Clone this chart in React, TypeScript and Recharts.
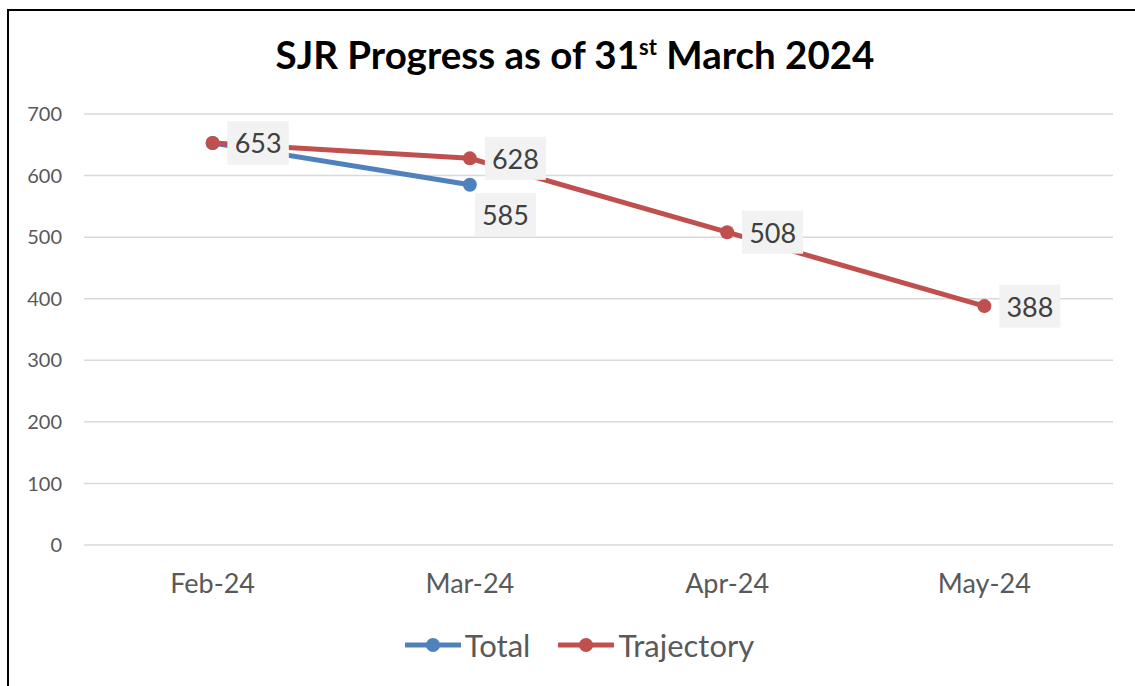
import {
  LineChart,
  Line,
  XAxis,
  YAxis,
  CartesianGrid,
  Legend,
  LabelList
} from 'recharts'

const meses = ['Feb-24', 'Mar-24', 'Apr-24', 'May-24']
const total: (number | null)[] = [653, 585, null, null]
const trayectoria = [653, 628, 508, 388]
const ticksY = [0, 100, 200, 300, 400, 500, 600, 700]

const datos = meses.map((mes, i) => ({
  mes,
  total: total[i],
  trayectoria: trayectoria[i]
}))

const FUENTE = 'Lato, "Open Sans", sans-serif'
const AZUL = '#4F81BD'
const ROJO = '#C0504D'

// caja gris con el valor, a la derecha o debajo del punto
function etiqueta(debajo: number[]) {
  // eslint-disable-next-line @typescript-eslint/no-explicit-any
  return function Etiqueta(props: any) {
    const { x, y, value, index } = props
    if (value == null) return null
    const w = 61
    const h = 43
    const abajo = debajo.includes(index)
    const bx = abajo ? x + 5 : x + 15
    const by = abajo ? y + 8 : y - h / 2
    return (
      <g>
        <rect x={bx} y={by} width={w} height={h} fill="#F2F2F2" />
        <text
          x={bx + w / 2}
          y={by + h / 2}
          textAnchor="middle"
          dominantBaseline="central"
          fontFamily={FUENTE}
          fontSize={27}
          fill="#404040"
        >
          {value}
        </text>
      </g>
    )
  }
}

// eslint-disable-next-line @typescript-eslint/no-explicit-any
function LeyendaCustom({ payload }: any) {
  if (!payload?.length) return null
  return (
    <div style={{ display: 'flex', justifyContent: 'center', gap: 28 }}>
      {/* eslint-disable-next-line @typescript-eslint/no-explicit-any */}
      {payload.map((p: any) => (
        <div key={p.value} style={{ display: 'flex', alignItems: 'center' }}>
          <svg width={56} height={20} style={{ marginRight: 4 }}>
            <line x1={1} y1={10} x2={55} y2={10} stroke={p.color} strokeWidth={5} strokeLinecap="round" />
            <circle cx={28} cy={10} r={7} fill={p.color} />
          </svg>
          <span style={{ fontFamily: FUENTE, fontSize: 31, color: '#595959' }}>
            {p.value === 'total' ? 'Total' : 'Trajectory'}
          </span>
        </div>
      ))}
    </div>
  )
}

export default function App() {
  return (
    <div
      style={{
        position: 'absolute',
        top: 0,
        left: 0,
        width: 1135,
        height: 686,
        overflow: 'hidden',
        background: '#fff'
      }}
    >
      <div
        style={{
          position: 'absolute',
          left: 7,
          top: 9,
          width: 1200,
          height: 800,
          border: '2px solid #000'
        }}
      />
      <div
        style={{
          position: 'absolute',
          top: 31,
          left: 0,
          width: 1150,
          textAlign: 'center',
          fontFamily: FUENTE,
          fontWeight: 700,
          fontSize: 38.5,
          lineHeight: 1.2,
          color: '#000'
        }}
      >
        SJR Progress as of 31<sup style={{ fontSize: 22 }}>st</sup> March 2024
      </div>
      <div style={{ position: 'absolute', top: 0, left: 0 }}>
        <LineChart
          width={1135}
          height={686}
          data={datos}
          margin={{ top: 114, right: 22, left: 0, bottom: 81 }}
        >
          <CartesianGrid vertical={false} stroke="#D9D9D9" strokeWidth={1.5} />
          <XAxis
            dataKey="mes"
            scale="band"
            axisLine={false}
            tickLine={false}
            tickMargin={23}
            height={60}
            tick={{ fontSize: 27, fill: '#595959', fontFamily: FUENTE }}
          />
          <YAxis
            domain={[0, 700]}
            ticks={ticksY}
            axisLine={false}
            tickLine={false}
            width={84}
            tickMargin={16}
            tick={{ fontSize: 20, fill: '#595959', fontFamily: FUENTE }}
          />
          <Legend
            layout="horizontal"
            verticalAlign="middle"
            align="center"
            wrapperStyle={{ top: 626, left: 12, width: 1135 }}
            content={<LeyendaCustom />}
          />
          <Line
            dataKey="total"
            stroke={AZUL}
            strokeWidth={5}
            dot={{ r: 7, fill: AZUL, stroke: AZUL, strokeWidth: 0 }}
            isAnimationActive={false}
          >
            <LabelList dataKey="total" content={etiqueta([1])} />
          </Line>
          <Line
            dataKey="trayectoria"
            stroke={ROJO}
            strokeWidth={5}
            dot={{ r: 7, fill: ROJO, stroke: ROJO, strokeWidth: 0 }}
            isAnimationActive={false}
          >
            <LabelList dataKey="trayectoria" content={etiqueta([])} />
          </Line>
        </LineChart>
      </div>
    </div>
  )
}
